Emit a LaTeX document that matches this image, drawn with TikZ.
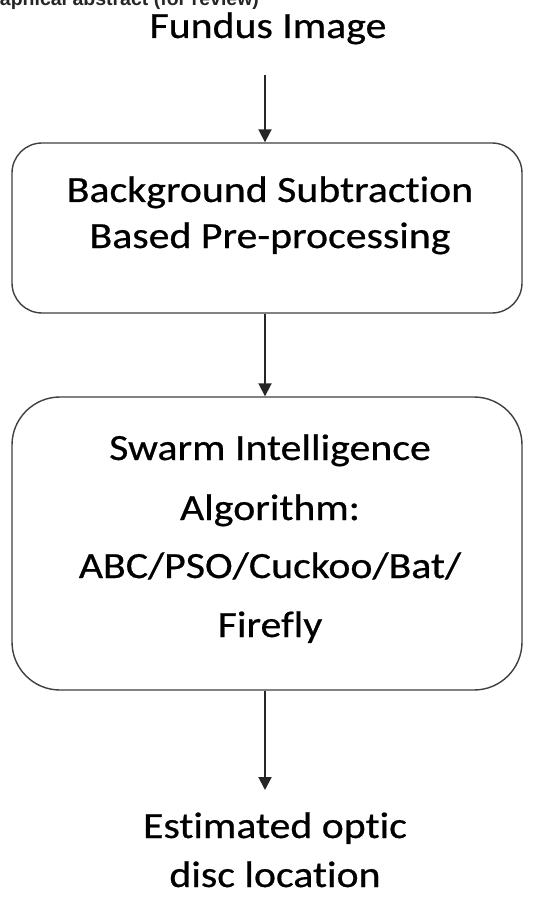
\documentclass[tikz,border=0pt]{standalone}
\usepackage{fontspec}
\setmainfont{Carlito}
\newfontfamily\diafont{Carlito}[FakeStretch=1.13,FakeBold=0.6,Ligatures={NoCommon}]
\newfontfamily\hdrfont{Liberation Sans}
\usetikzlibrary{arrows.meta}
\begin{document}
\begin{tikzpicture}[x=1pt,y=-1pt,
  txt/.style={anchor=base,inner sep=0pt,font=\diafont\fontsize{37}{44}\selectfont,text=black},
  stage/.style={draw=black!75,line width=1.4pt,inner sep=0pt,fill=white},
  flow/.style={line width=1.9pt,draw=black!85,-{Triangle[width=13pt,length=13pt]}}]
\useasboundingbox (0,0) rectangle (533,901);
\clip (0,0) rectangle (533,901);
% header (clipped at the top edge, as in the reference)
\node[anchor=base west,inner sep=0pt,font=\hdrfont\bfseries\fontsize{19.5}{22}\selectfont,text=black!85] (hdr) at (-23,6) {Graphical abstract (for review)};
% input
\node[txt] (fundus) at (268,38) {Fundus Image};
% box 1
\node[stage,rounded corners=30pt,minimum width=510pt,minimum height=170pt] (b1) at (267,228) {};
\node[txt] (b1a) at (270,202) {Background Subtraction};
\node[txt] (b1b) at (270,248) {Based Pre-processing};
% box 2
\node[stage,rounded corners=48pt,minimum width=510pt,minimum height=293pt] (b2) at (267,543.5) {};
\node[txt] (b2a) at (270,460) {Swarm Intelligence};
\node[txt] (b2b) at (270,520) {Algorithm:};
\node[txt] (b2c) at (270,578) {ABC/PSO/Cuckoo/Bat/};
\node[txt] (b2d) at (270,637) {Firefly};
% output
\coordinate (outtip) at (265,790);
\node[txt] (out1) at (275,838) {Estimated optic};
\node[txt] (out2) at (275,887) {disc location};
% connectors
\coordinate (a1s) at (265,75);
\draw[flow] (a1s) -- (b1.north -| a1s);
\draw[flow] (b1.south -| a1s) -- (b2.north -| a1s);
\draw[flow] (b2.south -| a1s) -- (outtip);
\end{tikzpicture}
\end{document}
